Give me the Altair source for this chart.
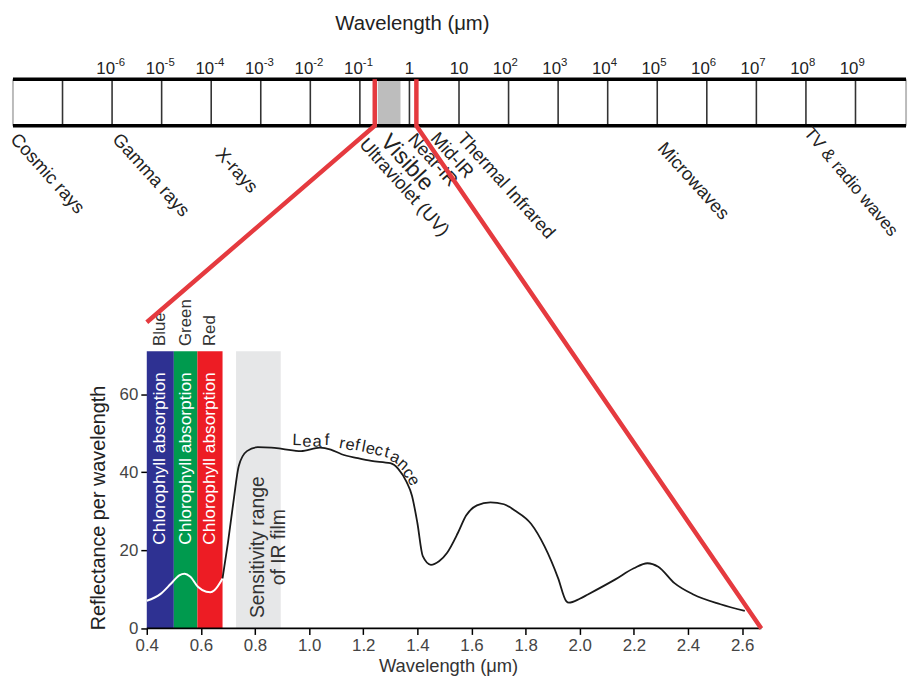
import altair as alt
import pandas as pd

# ---------------- data ----------------
# electromagnetic spectrum bar, positions given as log10(wavelength in um)
divider_exps = [-7, -6, -5, -4, -3, -2, -1, 0, 1, 2, 3, 4, 5, 6, 7, 8, 9]
label_exps = [-6, -5, -4, -3, -2, -1, 0, 1, 2, 3, 4, 5, 6, 7, 8, 9]
label_base = ["10", "10", "10", "10", "10", "10", "1", "10", "10", "10", "10", "10", "10", "10", "10", "10"]
label_power = ["-6", "-5", "-4", "-3", "-2", "-1", "", "", "2", "3", "4", "5", "6", "7", "8", "9"]
visible_fill = [-0.64, -0.18]
zoom_marks = [-0.70, 0.14]

region_names = ["Cosmic rays", "Gamma rays", "X-rays", "Ultraviolet (UV)", "Visible",
                "Near-IR", "Mid-IR", "Thermal Infrared", "Microwaves", "TV & radio waves"]
region_exps = [-7.98, -5.92, -3.84, -0.94, -0.50, 0.04, 0.50, 1.04, 5.08, 8.02]
region_rows = [126.1, 126.1, 122.3, 124.8, 125.6, 126.1, 126.3, 126.3, 123.8, 127.6]

# leaf reflectance spectrum
curve_wl = [0.40, 0.45, 0.49, 0.52, 0.54, 0.56, 0.59, 0.62, 0.635, 0.65, 0.68,
            0.70, 0.72, 0.74, 0.77, 0.81, 0.86, 0.90, 0.97, 1.04, 1.08, 1.12, 1.18, 1.23, 1.30,
            1.33, 1.36, 1.38, 1.40, 1.42, 1.45, 1.48, 1.51, 1.55, 1.58, 1.62, 1.67, 1.72, 1.76,
            1.82, 1.87, 1.92, 1.95, 1.96, 2.00, 2.03, 2.13, 2.20, 2.25, 2.29, 2.35, 2.42, 2.52, 2.61]
curve_refl = [7.1, 8.8, 11.5, 13.6, 14.0, 13.3, 10.6, 9.4, 9.3, 9.8, 12.8,
              22.0, 32.3, 41.6, 45.4, 46.4, 46.3, 46.0, 45.4, 46.3, 45.8, 44.6, 43.6, 42.9, 42.3,
              40.8, 37.5, 34.0, 27.0, 18.5, 16.3, 17.2, 19.4, 24.5, 28.9, 31.5, 32.3, 31.8, 30.2,
              26.8, 21.0, 12.9, 7.0, 6.6, 7.6, 8.7, 12.5, 15.4, 16.7, 15.8, 11.6, 8.7, 6.2, 4.5]
VIS_END = 11  # first 11 points lie on the coloured bands

band_names = ["Blue", "Green", "Red"]
band_start = [0.40, 0.50, 0.587]
band_end = [0.50, 0.587, 0.68]
band_top = 71
film_range = [0.73, 0.895]

leaf_chars = list("Leaf") + list("reflectance")
leaf_x = [0.955, 0.992, 1.030, 1.066, 1.122, 1.152, 1.178, 1.202, 1.227, 1.258, 1.288,
          1.318, 1.348, 1.367, 1.386]
leaf_y = [48.2, 47.8, 47.8, 48.2, 47.4, 47.0, 46.9, 46.5, 46.0, 45.6, 45.1,
          43.8, 42.0, 39.8, 37.9]
leaf_ang = [2, 2, 2, 2, 11, 11, 11, 11, 12, 13, 15, 25, 42, 54, 62]

x_ticks = [0.4, 0.6, 0.8, 1.0, 1.2, 1.4, 1.6, 1.8, 2.0, 2.2, 2.4, 2.6]
y_ticks = [0, 20, 40, 60]

# ---------------- layout ----------------
W, H = 903, 623
E_DOM = [-8.02, 10.04]
U_DOM = [-0.0982, 3.2095]
Y_DOM = [0, 158.1]
BAR_TOP, BAR_BOT = 140.6, 128.7
AXIS_END = 2.671
FONT = "Liberation Sans"
RED = "#E53A3F"


def e_to_um(e):
    return U_DOM[0] + (e - E_DOM[0]) / (E_DOM[1] - E_DOM[0]) * (U_DOM[1] - U_DOM[0])


ys = alt.Scale(domain=Y_DOM, nice=False, zero=False)
xe_s = alt.Scale(domain=E_DOM, nice=False, zero=False)
xu_s = alt.Scale(domain=U_DOM, nice=False, zero=False)

y_axis = alt.Axis(values=y_ticks, offset=-136, domain=False, grid=False, tickSize=6,
                  tickColor="black", tickWidth=1.5, labelFontSize=17, labelColor="#444",
                  labelFont=FONT, labelPadding=3, title="Reflectance per wavelength",
                  titleFont=FONT, titleFontSize=20, titleFontWeight="normal", titleColor="#222",
                  titleX=-49, titleY=501, titleAngle=270, titleAlign="center",
                  titleBaseline="middle")
x_axis = alt.Axis(values=x_ticks, format=".1f", orient="bottom", domain=False, grid=False,
                  tickSize=6, tickColor="black", tickWidth=1.5, labelFontSize=17,
                  labelColor="#444", labelFont=FONT, labelPadding=3, title="Wavelength (μm)",
                  titleFont=FONT, titleFontSize=18.5, titleFontWeight="normal", titleColor="#333",
                  titleX=440, titleY=37, titleAlign="center", titleBaseline="middle")


def XE(f):
    return alt.X(f"{f}:Q", scale=xe_s, axis=None)


def XU(f):
    return alt.X(f"{f}:Q", scale=xu_s, axis=x_axis)


def Y(f):
    return alt.Y(f"{f}:Q", scale=ys, axis=y_axis)


# ---------------- top: spectrum bar ----------------
t_fill = alt.Chart(pd.DataFrame({"a": [visible_fill[0]], "b": [visible_fill[1]],
                                 "lo": [BAR_BOT], "hi": [BAR_TOP]})).mark_rect(
    color="#BDBDBD").encode(x=XE("a"), x2="b", y=Y("lo"), y2="hi")

t_div = alt.Chart(pd.DataFrame({"e": divider_exps, "lo": BAR_BOT, "hi": BAR_TOP})).mark_rule(
    color="#333", strokeWidth=1.6).encode(x=XE("e"), y=Y("lo"), y2="hi")

t_sides = alt.Chart(pd.DataFrame({"e": [-8.0, 10.02], "lo": BAR_BOT, "hi": BAR_TOP})).mark_rule(
    color="#BBBBBB", strokeWidth=2).encode(x=XE("e"), y=Y("lo"), y2="hi")

t_edges = alt.Chart(pd.DataFrame({"y": [BAR_TOP, BAR_BOT], "a": -8.0, "b": 10.02})).mark_rule(
    color="black", strokeWidth=3.5).encode(x=XE("a"), x2="b", y=Y("y"))

lab_df = pd.DataFrame({"e": label_exps, "base": label_base, "power": label_power, "y": 141.9})
t_base = alt.Chart(lab_df).transform_filter("datum.power != ''").mark_text(
    font=FONT, fontSize=17, align="right", baseline="alphabetic", dx=3, color="#222").encode(
    x=XE("e"), y=Y("y"), text="base:N")
t_pow = alt.Chart(lab_df).transform_filter("datum.power != ''").mark_text(
    font=FONT, fontSize=11.5, align="left", baseline="alphabetic", dx=3, dy=-8, color="#222").encode(
    x=XE("e"), y=Y("y"), text="power:N")
t_plain = alt.Chart(lab_df).transform_filter("datum.power == ''").mark_text(
    font=FONT, fontSize=17, align="center", baseline="alphabetic", color="#222").encode(
    x=XE("e"), y=Y("y"), text="base:N")

t_title = alt.Chart(pd.DataFrame({"e": [0.06], "y": [153.3], "t": ["Wavelength (μm)"]})).mark_text(
    font=FONT, fontSize=20.5, align="center", baseline="alphabetic", color="#222").encode(
    x=XE("e"), y=Y("y"), text="t:N")

reg_df = pd.DataFrame({"name": region_names, "e": region_exps, "y": region_rows})
t_regions = alt.Chart(reg_df).transform_filter(
    "datum.name != 'Visible' && datum.name != 'TV & radio waves'").mark_text(
    font=FONT, fontSize=18.5, align="left", baseline="middle", angle=48, color="#222").encode(
    x=XE("e"), y=Y("y"), text="name:N")
t_tv = alt.Chart(reg_df).transform_filter("datum.name == 'TV & radio waves'").mark_text(
    font=FONT, fontSize=17.5, align="left", baseline="middle", angle=50, color="#222").encode(
    x=XE("e"), y=Y("y"), text="name:N")
t_visible = alt.Chart(reg_df).transform_filter("datum.name == 'Visible'").mark_text(
    font=FONT, fontSize=23, align="left", baseline="middle", angle=48, color="#222").encode(
    x=XE("e"), y=Y("y"), text="name:N")

top = alt.layer(t_fill, t_div, t_sides, t_edges, t_base, t_pow, t_plain, t_title,
                t_regions, t_tv, t_visible)

# ---------------- bottom: leaf reflectance ----------------
bands_df = pd.DataFrame({"name": band_names + ["film"], "start": band_start + [film_range[0]],
                         "end": band_end + [film_range[1]], "lo": 0, "hi": band_top})
b_bands = alt.Chart(bands_df).mark_rect().encode(
    x=XU("start"), x2="end", y=Y("lo"), y2="hi",
    color=alt.Color("name:N", scale=alt.Scale(domain=band_names + ["film"],
                                              range=["#2E3192", "#009A4E", "#ED1C24", "#E6E7E8"]),
                    legend=None))

curve_df = pd.DataFrame({"wl": curve_wl, "r": curve_refl})
b_vis = alt.Chart(curve_df.iloc[:VIS_END]).mark_line(
    color="white", strokeWidth=2, interpolate="monotone").encode(x=XU("wl"), y=Y("r"))
b_ir = alt.Chart(curve_df.iloc[VIS_END - 1:]).mark_line(
    color="#1a1a1a", strokeWidth=1.8, interpolate="monotone").encode(x=XU("wl"), y=Y("r"))

b_axis = alt.Chart(pd.DataFrame({"a": [x_ticks[0]], "b": [AXIS_END], "y": [0]})).mark_rule(
    color="black", strokeWidth=1.8).encode(x=XU("a"), x2="b", y=Y("y"))

bt_df = pd.DataFrame({"name": band_names,
                      "mid": [(a + b) / 2 for a, b in zip(band_start, band_end)],
                      "txt": "Chlorophyll absorption", "yc": 43.5, "ytop": 72.3})
b_btxt = alt.Chart(bt_df).mark_text(font=FONT, fontSize=17.5, align="center", baseline="middle",
                                    angle=270, color="white").encode(
    x=XU("mid"), y=Y("yc"), text="txt:N")
b_bnames = alt.Chart(bt_df).mark_text(font=FONT, fontSize=17, align="left", baseline="middle",
                                      angle=270, color="#333").encode(
    x=XU("mid"), y=Y("ytop"), text="name:N")

b_film = alt.Chart(pd.DataFrame({"x": [sum(film_range) / 2], "y": [20.8],
                                 "t": ["Sensitivity range\nof IR film"]})).mark_text(
    font=FONT, fontSize=19.5, align="center", baseline="middle", angle=270, color="#333",
    lineBreak="\n", lineHeight=21).encode(x=XU("x"), y=Y("y"), text="t:N")

leaf_df = pd.DataFrame({"ch": leaf_chars, "x": leaf_x, "y": leaf_y, "ang": leaf_ang})
b_leaf = alt.Chart(leaf_df).mark_text(font=FONT, fontSize=16.5, align="center", baseline="middle",
                                      color="#222").encode(
    x=XU("x"), y=Y("y"), text="ch:N", angle=alt.Angle("ang:Q", scale=None))

conn_df = pd.DataFrame({
    "seg": ["left"] * 3 + ["right"] * 3,
    "step": [0, 1, 2, 0, 1, 2],
    "x": [e_to_um(zoom_marks[0]), e_to_um(zoom_marks[0]), x_ticks[0],
          e_to_um(zoom_marks[1]), e_to_um(zoom_marks[1]), AXIS_END],
    "y": [BAR_TOP, BAR_BOT, 78.4, BAR_TOP, BAR_BOT, 0],
})
b_conn = alt.Chart(conn_df).mark_line(color=RED, strokeWidth=4.5, strokeJoin="miter").encode(
    x=XU("x"), y=Y("y"), detail="seg:N", order="step:Q")

bottom = alt.layer(b_bands, b_vis, b_ir, b_axis, b_btxt, b_bnames, b_film, b_leaf, b_conn)

chart = alt.layer(top, bottom).resolve_scale(x="independent").properties(
    width=W, height=H, autosize=alt.AutoSizeParams(type="none"),
    padding={"left": 4, "top": 0, "right": 4, "bottom": 45},
).configure_view(strokeWidth=0).configure_axis(grid=False)

chart.save("out.html", embed_options={"renderer": "svg", "actions": False})
